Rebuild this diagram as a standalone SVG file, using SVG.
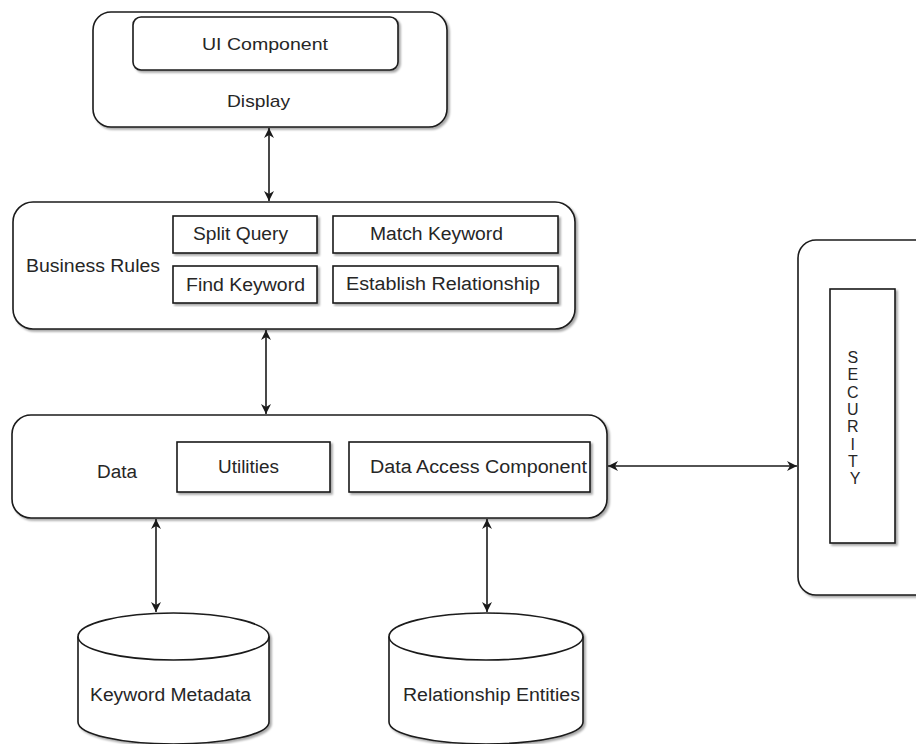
<svg xmlns="http://www.w3.org/2000/svg" width="916" height="744" viewBox="0 0 916 744">
<style>
.box{fill:#fff;stroke:#1a1a1a;stroke-width:1.6}
.lbl{font-family:"Liberation Sans",Arial,sans-serif;font-size:18px;fill:#262626}
.conn{stroke:#1a1a1a;stroke-width:1.6;fill:none}
</style>
<defs>
<filter id="sh" x="-5%" y="-5%" width="115%" height="115%">
<feGaussianBlur in="SourceAlpha" stdDeviation="1.2"/>
<feOffset dx="2" dy="2" result="o"/>
<feComponentTransfer><feFuncA type="linear" slope="0.35"/></feComponentTransfer>
<feMerge><feMergeNode/><feMergeNode in="SourceGraphic"/></feMerge>
</filter>
<marker id="ah" viewBox="0 0 10 10" refX="10" refY="5" markerWidth="11" markerHeight="10" markerUnits="userSpaceOnUse" orient="auto-start-reverse">
<path d="M0,0 L10,5 L0,10 L3,5 z" fill="#1a1a1a"/>
</marker>
</defs>
<rect width="916" height="744" fill="#fff"/>

<g id="display">
<rect class="box" x="93" y="12" width="354" height="115" rx="18" filter="url(#sh)"/>
<rect class="box" x="133" y="17" width="265" height="53" rx="8" filter="url(#sh)"/>
<text class="lbl" x="202" y="50" textLength="126" lengthAdjust="spacingAndGlyphs" style="font-size:17px">UI Component</text>
<text class="lbl" x="227" y="107" textLength="63" lengthAdjust="spacingAndGlyphs" style="font-size:17px">Display</text>
</g>

<g id="business-rules">
<rect class="box" x="13" y="202" width="562" height="127" rx="20" filter="url(#sh)"/>
<text class="lbl" x="26" y="272" textLength="134" lengthAdjust="spacingAndGlyphs">Business Rules</text>
<g id="split-query">
<rect class="box" x="173" y="216" width="144" height="37" filter="url(#sh)"/>
<text class="lbl" x="193" y="240" textLength="95" lengthAdjust="spacingAndGlyphs">Split Query</text>
</g>
<g id="match-keyword">
<rect class="box" x="333" y="216" width="225" height="37" filter="url(#sh)"/>
<text class="lbl" x="370" y="240" textLength="133" lengthAdjust="spacingAndGlyphs">Match Keyword</text>
</g>
<g id="find-keyword">
<rect class="box" x="173" y="266" width="144" height="37" filter="url(#sh)"/>
<text class="lbl" x="186" y="291" textLength="119" lengthAdjust="spacingAndGlyphs">Find Keyword</text>
</g>
<g id="establish-relationship">
<rect class="box" x="333" y="266" width="225" height="37" filter="url(#sh)"/>
<text class="lbl" x="346" y="290" textLength="194" lengthAdjust="spacingAndGlyphs">Establish Relationship</text>
</g>
</g>

<g id="data">
<rect class="box" x="12" y="415" width="595" height="103" rx="19" filter="url(#sh)"/>
<text class="lbl" x="97" y="478" textLength="40" lengthAdjust="spacingAndGlyphs">Data</text>
<g id="utilities">
<rect class="box" x="177" y="442" width="153" height="50" filter="url(#sh)"/>
<text class="lbl" x="218" y="473" textLength="61" lengthAdjust="spacingAndGlyphs">Utilities</text>
</g>
<g id="data-access-component">
<rect class="box" x="349" y="442" width="241" height="50" filter="url(#sh)"/>
<text class="lbl" x="370" y="473" textLength="217" lengthAdjust="spacingAndGlyphs">Data Access Component</text>
</g>
</g>

<g id="security">
<rect class="box" x="798" y="240" width="140" height="355" rx="18" filter="url(#sh)"/>
<rect class="box" x="830" y="289" width="65" height="254" filter="url(#sh)"/>
<text class="lbl" text-anchor="middle" style="font-size:16px">
<tspan x="855" y="363">S</tspan>
<tspan x="855" y="380.3">E</tspan>
<tspan x="855" y="397.6">C</tspan>
<tspan x="855" y="414.9">U</tspan>
<tspan x="855" y="432.2">R</tspan>
<tspan x="855" y="449.5">I</tspan>
<tspan x="855" y="466.8">T</tspan>
<tspan x="855" y="484.1">Y</tspan>
</text>
</g>

<g id="keyword-metadata">
<path class="box" filter="url(#sh)" d="M78,636.5 A95.5,23.5 0 0 1 269,636.5 L269,722 A95.5,22 0 0 1 78,722 Z"/>
<path class="conn" d="M78,636.5 A95.5,23.5 0 0 0 269,636.5"/>
<text class="lbl" x="90" y="701" textLength="161" lengthAdjust="spacingAndGlyphs">Keyword Metadata</text>
</g>

<g id="relationship-entities">
<path class="box" filter="url(#sh)" d="M389,636.5 A97,23.5 0 0 1 583,636.5 L583,722 A97,22 0 0 1 389,722 Z"/>
<path class="conn" d="M389,636.5 A97,23.5 0 0 0 583,636.5"/>
<text class="lbl" x="403" y="701" textLength="177" lengthAdjust="spacingAndGlyphs">Relationship Entities</text>
</g>

<g id="connectors">
<line class="conn" x1="269" y1="128" x2="269" y2="201" marker-start="url(#ah)" marker-end="url(#ah)"/>
<line class="conn" x1="266" y1="330" x2="266" y2="414" marker-start="url(#ah)" marker-end="url(#ah)"/>
<line class="conn" x1="608" y1="466" x2="797" y2="466" marker-start="url(#ah)" marker-end="url(#ah)"/>
<line class="conn" x1="156" y1="519" x2="156" y2="612" marker-start="url(#ah)" marker-end="url(#ah)"/>
<line class="conn" x1="487" y1="519" x2="487" y2="612" marker-start="url(#ah)" marker-end="url(#ah)"/>
</g>
</svg>
